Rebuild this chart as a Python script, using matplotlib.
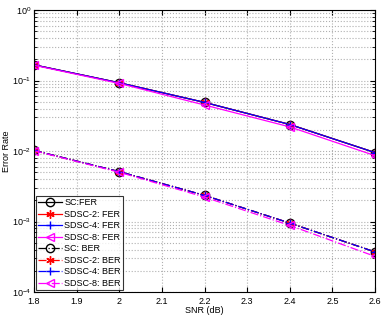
import numpy as np
import matplotlib.pyplot as plt

plt.rcParams['font.family'] = ['Liberation Sans', 'DejaVu Sans']

snr = [1.8, 2.0, 2.2, 2.4, 2.6]

# frame error rate
fer_sc = [0.167, 0.093, 0.049, 0.0238, 0.0095]
fer_sd2 = [0.167, 0.093, 0.049, 0.0238, 0.0095]
fer_sd4 = [0.167, 0.093, 0.049, 0.0238, 0.0095]
fer_sd8 = [0.165, 0.091, 0.045, 0.0220, 0.0086]

# bit error rate
ber_sc = [0.0102, 0.0051, 0.00235, 0.00095, 0.00037]
ber_sd2 = [0.0102, 0.0051, 0.00235, 0.00095, 0.00037]
ber_sd4 = [0.0102, 0.0051, 0.00235, 0.00095, 0.00037]
ber_sd8 = [0.0101, 0.0050, 0.00222, 0.00088, 0.00032]

fig = plt.figure(figsize=(3.82, 3.15), dpi=100)
ax = fig.add_axes([0.089, 0.073, 0.893, 0.895])

ms = 6
star = (6, 2, 0)
ax.semilogy(snr, fer_sc, 'k-o', mfc='none', ms=ms, lw=0.9, label='SC:FER')
ax.semilogy(snr, fer_sd2, 'r-', marker=star, ms=ms, lw=0.9, label='SDSC-2: FER')
ax.semilogy(snr, fer_sd4, 'b-+', ms=ms, lw=0.9, label='SDSC-4: FER')
ax.semilogy(snr, fer_sd8, '-<', color='magenta', mfc='none', ms=ms, lw=0.9, label='SDSC-8: FER')
ax.semilogy(snr, ber_sc, 'k-.o', mfc='none', ms=ms, lw=0.9, label='SC: BER')
ax.semilogy(snr, ber_sd2, 'r-.', marker=star, ms=ms, lw=0.9, label='SDSC-2: BER')
ax.semilogy(snr, ber_sd4, 'b-.+', ms=ms, lw=0.9, label='SDSC-4: BER')
ax.semilogy(snr, ber_sd8, '-.<', color='magenta', mfc='none', ms=ms, lw=0.9, label='SDSC-8: BER')

ax.set_xlim(1.8, 2.6)
ax.set_ylim(1e-4, 1)
ax.set_xticks([1.8, 1.9, 2.0, 2.1, 2.2, 2.3, 2.4, 2.5, 2.6])
ax.set_xticklabels(['1.8', '1.9', '2', '2.1', '2.2', '2.3', '2.4', '2.5', '2.6'])
ax.tick_params(which='both', direction='in', top=True, right=True, labelsize=6.5, pad=2)
ax.tick_params(axis='x', pad=3.5)
ax.grid(True, which='major', ls=':', color='#b0b0b0', lw=0.8)
ax.grid(True, which='minor', ls=':', color='#b0b0b0', lw=0.8)
ax.set_xlabel('SNR (dB)', fontsize=6.5, labelpad=0)
ax.set_ylabel('Error Rate', fontsize=6.5)
ax.yaxis.set_label_coords(-0.068, 0.5)

leg = ax.legend(loc='lower left', fontsize=6.5, fancybox=False, edgecolor='k',
                handlelength=2.6, handletextpad=0.3, labelspacing=0.28,
                borderpad=0.25, borderaxespad=0.2)
leg.get_frame().set_linewidth(0.8)

plt.savefig('out.png', dpi=100)
